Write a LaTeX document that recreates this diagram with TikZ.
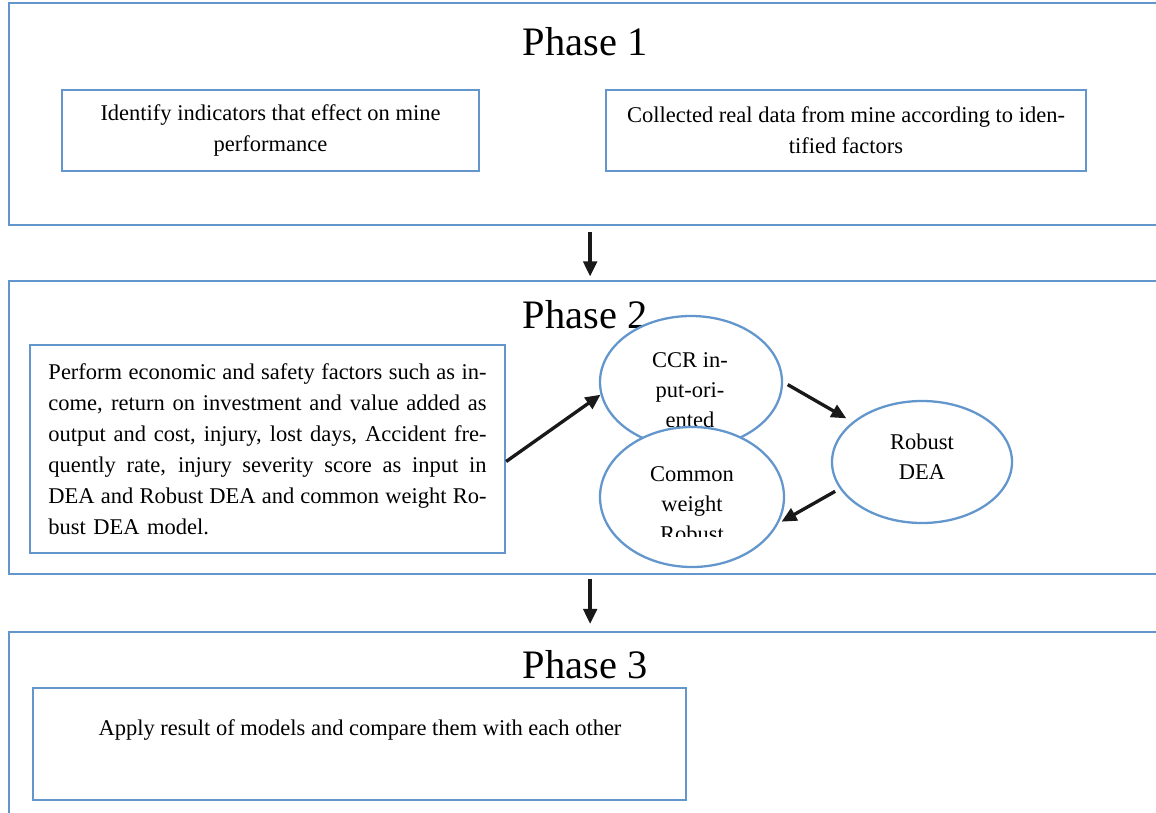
\documentclass[tikz,border=0pt]{standalone}
\usepackage{fontspec}
\setmainfont{Liberation Serif}
\newfontfamily\bodyfont{Liberation Serif}
\usetikzlibrary{shapes.geometric, arrows.meta, positioning}
\definecolor{phaseblue}{RGB}{98, 150, 204}
\newcommand{\jline}[1]{\makebox[\linewidth][s]{\spaceskip=.25em plus .4em minus .1em #1}}

\begin{document}
\begin{tikzpicture}[
  x=0.2mm, y=-0.2mm,
  font=\bodyfont\fontsize{12.8}{17.6}\selectfont,
  every node/.style={inner sep=0pt},
  phase/.style={draw=phaseblue, line width=1.3pt, minimum width=232.4mm, anchor=north west},
  title/.style={font=\bodyfont\fontsize{23}{27}\selectfont},
  box/.style={draw=phaseblue, line width=1.3pt, align=center},
  model/.style={ellipse, draw=phaseblue, line width=1.3pt, fill=white},
  mtext/.style={align=center, font=\bodyfont\fontsize{12.8}{17}\selectfont},
  arr/.style={-{Triangle[length=3mm, width=2.7mm]}, line width=1.9pt, black!90}
]
\useasboundingbox (0,0) rectangle (1156,812);
% phase frames
\node[phase, minimum height=44.4mm] (p1) at (8,2) {};
\node[phase, minimum height=58.6mm] (p2) at (8,280) {};
\node[phase, minimum height=40mm] (p3) at (8,631) {};
\node[title] (t1) at (585,42) {Phase 1};
\node[title] (t2) at (585,315) {Phase 2};
\node[title] (t3) at (585,665) {Phase 3};
% phase 1
\node[box, minimum width=83.4mm, minimum height=16.2mm] (ident) at (270.5,130.5) {Identify indicators that effect on mine\\performance};
\node[box, minimum width=96mm, minimum height=16.2mm] (collect) at (846,130.5) {Collected real data from mine according to iden-\\tified factors};
% phase 2
\node[box, minimum width=95mm, minimum height=41.6mm, text width=87.6mm, align=left] (perf) at (267.5,449) {%
\jline{Perform economic and safety factors such as in-}\\
\jline{come, return on investment and value added as}\\
\jline{output and cost, injury, lost days, Accident fre-}\\
\jline{quently rate, injury severity score as input in}\\
\jline{DEA and Robust DEA and common weight Ro-}\\
bust DEA model.};
\node[model, minimum width=36.4mm, minimum height=26.4mm] (ccr) at (691,382) {};
\node[mtext] (ccrtext) at (690,390) {CCR in-\\put-ori-\\ented};
\node[model, minimum width=36.8mm, minimum height=28mm] (cw) at (692,497) {};
\begin{scope}
  \clip (595,420) rectangle (790,536);
  \node[mtext] (cwtext) at (692,504) {Common\\weight\\Robust};
\end{scope}
\node[model, minimum width=36mm, minimum height=24.4mm] (rob) at (922,462) {};
\node[mtext] (robtext) at (922,457) {Robust\\DEA};
\draw[arr] (perf.-3) -- (ccr.188);
\draw[arr, shorten <=3pt, shorten >=4pt] (ccr.east) -- (rob.150);
\draw[arr, shorten <=3pt, shorten >=2pt] (rob.198) -- (cw.-17);
% phase 3
\node[box, minimum width=130.6mm, minimum height=22.4mm] (apply) at (359.5,744) {};
\node (applytext) at (360,730) {Apply result of models and compare them with each other};
% between phases
\draw[arr, shorten <=3pt, shorten >=2pt] (p1.south) -- (p2.north);
\draw[arr, shorten <=2pt, shorten >=4pt] (p2.south) -- (p3.north);
\end{tikzpicture}
\end{document}
